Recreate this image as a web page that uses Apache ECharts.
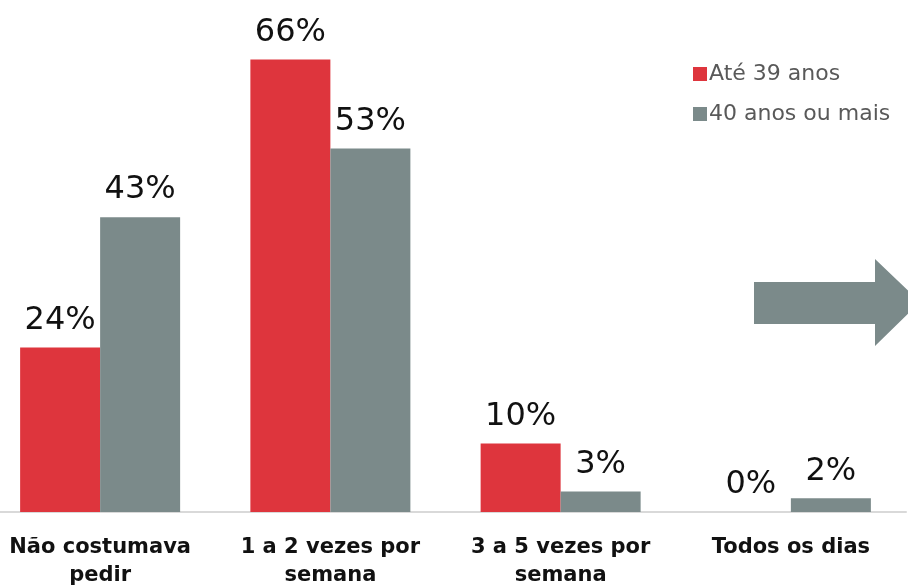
<!DOCTYPE html>
<html>
<head>
<meta charset="utf-8">
<script src="https://cdn.jsdelivr.net/npm/echarts@6/dist/echarts.min.js"></script>
<style>
  html, body { margin: 0; padding: 0; background: #fff; }
  #chart { width: 908px; height: 586px; }
</style>
</head>
<body>
<div id="chart"></div>
<script>
// Frequência de pedidos por faixa etária
const categories = ['Não costumava\npedir', '1 a 2 vezes por\nsemana', '3 a 5 vezes por\nsemana', 'Todos os dias'];
const seriesNames = ['Até 39 anos', '40 anos ou mais'];
const ate39 = [24, 66, 10, 0];
const mais40 = [43, 53, 3, 2];

const RED = '#DE353D';
const GRAY = '#7B8A8A';

const chart = echarts.init(document.getElementById('chart'), null, { renderer: 'canvas' });

const labelStyle = {
  show: true,
  position: 'top',
  distance: 11,
  formatter: '{c}%',
  fontFamily: 'DejaVu Sans',
  fontSize: 32,
  color: '#111'
};

chart.setOption({
  animation: false,
  backgroundColor: '#fff',
  grid: { left: -15, right: 2, top: 32, bottom: 74, containLabel: false, outerBoundsMode: 'none' },
  legend: {
    orient: 'vertical',
    left: 688,
    top: 58,
    itemWidth: 14,
    itemHeight: 14,
    itemGap: 18,
    icon: 'rect',
    textStyle: { fontFamily: 'DejaVu Sans', fontSize: 22, color: '#595959', padding: [0, 0, 0, -3] },
    data: seriesNames
  },
  xAxis: {
    type: 'category',
    data: categories,
    axisTick: { show: false },
    axisLine: { lineStyle: { color: '#d9d9d9', width: 2 } },
    axisLabel: {
      margin: 22,
      fontFamily: 'DejaVu Sans',
      fontWeight: 'bold',
      fontSize: 21,
      lineHeight: 28,
      color: '#111',
      interval: 0
    }
  },
  yAxis: {
    type: 'value',
    min: 0,
    max: 70,
    show: false,
    splitLine: { show: false }
  },
  series: [
    {
      name: seriesNames[0],
      type: 'bar',
      data: ate39,
      barWidth: 80,
      barGap: '0%',
      itemStyle: { color: RED },
      label: labelStyle
    },
    {
      name: seriesNames[1],
      type: 'bar',
      data: mais40,
      barWidth: 80,
      itemStyle: { color: GRAY },
      label: labelStyle
    }
  ],
  graphic: [
    {
      // decorative arrow on the right edge
      type: 'polygon',
      shape: {
        points: [[754, 282], [875, 282], [875, 259], [920, 302], [875, 346], [875, 324], [754, 324]]
      },
      style: { fill: GRAY }
    }
  ]
});
</script>
</body>
</html>
